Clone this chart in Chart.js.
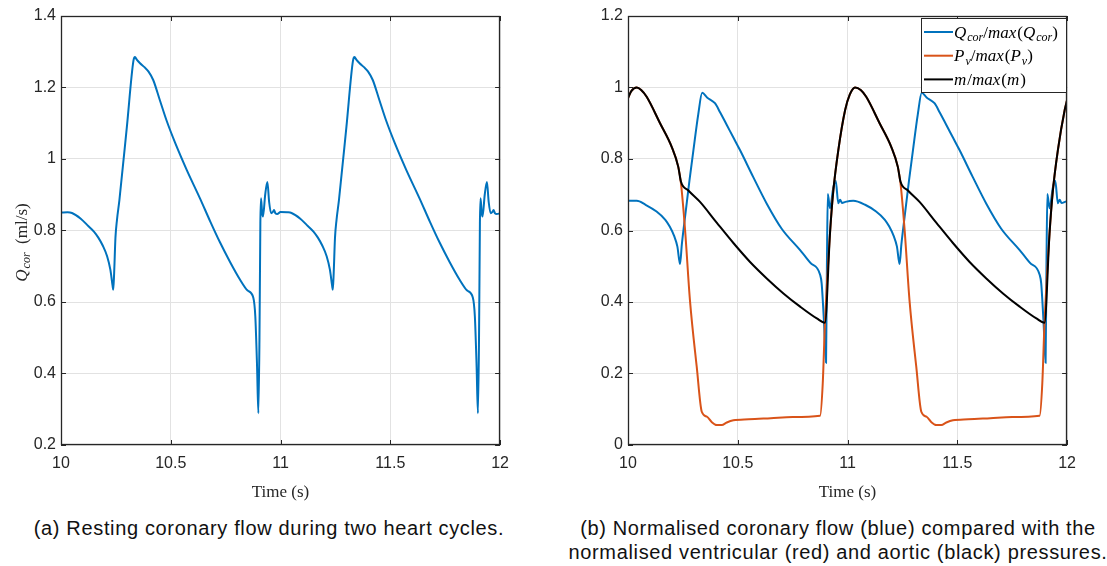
<!DOCTYPE html>
<html>
<head>
<meta charset="utf-8">
<script src="https://cdn.jsdelivr.net/npm/chart.js@4.4.1/dist/chart.umd.min.js"></script>
<style>
body { margin: 0; background: #fff; width: 1107px; height: 566px; position: relative; overflow: hidden; }
.box { position: absolute; top: 0; width: 518px; height: 510px; }
.cap { position: absolute; font-family: "Liberation Sans", sans-serif; font-size: 20px; letter-spacing: 0.65px; text-align: center; color: #111; line-height: 24px; white-space: nowrap; }
</style>
</head>
<body>
<div class="box" style="left:0"><canvas id="chartA"></canvas></div>
<div class="box" style="left:567px"><canvas id="chartB"></canvas></div>
<div class="cap" style="left:0;width:538px;top:516px">(a) Resting coronary flow during two heart cycles.</div>
<div class="cap" style="left:568px;width:540px;top:516px">(b) Normalised coronary flow (blue) compared with the<br>normalised ventricular (red) and aortic (black) pressures.</div>
<script>
// tick labels
const xTicks = [10, 10.5, 11, 11.5, 12];
const yTicksA = [0.2, 0.4, 0.6, 0.8, 1, 1.2, 1.4];
const yTicksB = [0, 0.2, 0.4, 0.6, 0.8, 1, 1.2];

// (a) resting coronary flow, ml/s
const qTime = [10.00, 10.03, 10.05, 10.09, 10.12, 10.15, 10.17, 10.19, 10.21, 10.225, 10.235, 10.238, 10.242, 10.248, 10.255, 10.266,
  10.30, 10.33, 10.337, 10.345, 10.36, 10.38, 10.398, 10.42, 10.45, 10.48, 10.52, 10.573, 10.633, 10.68, 10.724, 10.77, 10.815,
  10.85, 10.876, 10.885, 10.893, 10.899, 10.904, 10.908, 10.911, 10.916, 10.92, 10.93, 10.94, 10.948, 10.957, 10.965, 10.97,
  10.977, 10.985, 11.00,
  11.03, 11.05, 11.09, 11.12, 11.15, 11.17, 11.19, 11.21, 11.225, 11.235, 11.238, 11.242, 11.248, 11.255, 11.266,
  11.30, 11.33, 11.337, 11.345, 11.36, 11.38, 11.398, 11.42, 11.45, 11.48, 11.52, 11.573, 11.633, 11.68, 11.724, 11.77, 11.815,
  11.85, 11.876, 11.885, 11.893, 11.899, 11.904, 11.908, 11.911, 11.916, 11.92, 11.93, 11.94, 11.948, 11.957, 11.965, 11.97,
  11.977, 11.985, 12.00];
const qFlow = [0.850, 0.851, 0.849, 0.833, 0.815, 0.797, 0.780, 0.758, 0.728, 0.690, 0.645, 0.634, 0.680, 0.780, 0.830, 0.885,
  1.090, 1.275, 1.285, 1.278, 1.268, 1.257, 1.245, 1.221, 1.165, 1.109, 1.045, 0.969, 0.890, 0.825, 0.767, 0.712, 0.663,
  0.632, 0.612, 0.560, 0.420, 0.289, 0.500, 0.820, 0.890, 0.850, 0.839, 0.900, 0.936, 0.880, 0.848, 0.852, 0.857,
  0.848, 0.846, 0.852,
  0.851, 0.849, 0.833, 0.815, 0.797, 0.780, 0.758, 0.728, 0.690, 0.645, 0.634, 0.680, 0.780, 0.830, 0.885,
  1.090, 1.275, 1.285, 1.278, 1.268, 1.257, 1.245, 1.221, 1.165, 1.109, 1.045, 0.969, 0.890, 0.825, 0.767, 0.712, 0.663,
  0.632, 0.612, 0.560, 0.420, 0.289, 0.500, 0.820, 0.890, 0.850, 0.839, 0.900, 0.936, 0.880, 0.848, 0.852, 0.857,
  0.848, 0.846, 0.848];

// (b) normalised coronary flow
const qnTime = [10.00, 10.04, 10.08, 10.13, 10.17, 10.19, 10.21, 10.225, 10.237, 10.245, 10.26, 10.28, 10.298, 10.32, 10.338,
  10.36, 10.396, 10.42, 10.45, 10.48, 10.51, 10.57, 10.632, 10.70, 10.784, 10.83, 10.875, 10.882, 10.893, 10.902, 10.906,
  10.91, 10.92, 10.935, 10.946, 10.958, 10.966, 10.975, 10.99, 11.026,
  11.08, 11.13, 11.17, 11.19, 11.21, 11.225, 11.237, 11.245, 11.26, 11.28, 11.298, 11.32, 11.338,
  11.36, 11.396, 11.42, 11.45, 11.48, 11.51, 11.57, 11.632, 11.70, 11.784, 11.83, 11.875, 11.882, 11.893, 11.902, 11.906,
  11.91, 11.92, 11.935, 11.946, 11.958, 11.966, 11.975, 11.99, 12.00];
const qnVal = [0.683, 0.683, 0.672, 0.653, 0.630, 0.611, 0.585, 0.555, 0.506, 0.560, 0.639, 0.740, 0.825, 0.925, 0.985,
  0.972, 0.956, 0.930, 0.895, 0.860, 0.825, 0.750, 0.675, 0.605, 0.545, 0.510, 0.476, 0.452, 0.340, 0.230, 0.500,
  0.702, 0.662, 0.720, 0.739, 0.676, 0.686, 0.677, 0.680, 0.683,
  0.672, 0.653, 0.630, 0.611, 0.585, 0.555, 0.506, 0.560, 0.639, 0.740, 0.825, 0.925, 0.985,
  0.972, 0.956, 0.930, 0.895, 0.860, 0.825, 0.750, 0.675, 0.605, 0.545, 0.510, 0.476, 0.452, 0.340, 0.230, 0.500,
  0.702, 0.662, 0.720, 0.739, 0.676, 0.686, 0.677, 0.680, 0.682];

// (b) normalised ventricular pressure
const pvTime = [10.00, 10.015, 10.04, 10.06, 10.085, 10.146, 10.199, 10.229, 10.241, 10.26, 10.282, 10.313, 10.336, 10.36, 10.38,
  10.404, 10.427, 10.45, 10.48, 10.55, 10.65, 10.75, 10.875, 10.887, 10.897, 10.92, 10.935, 10.958, 10.989, 11.01, 11.034,
  11.06, 11.085, 11.146, 11.199, 11.229, 11.241, 11.26, 11.282, 11.313, 11.336, 11.36, 11.38,
  11.404, 11.427, 11.45, 11.48, 11.55, 11.65, 11.75, 11.875, 11.887, 11.897, 11.92, 11.935, 11.958, 11.989, 12.00];
const pvVal = [0.970, 0.990, 1.000, 0.993, 0.974, 0.900, 0.834, 0.778, 0.733, 0.601, 0.406, 0.219, 0.093, 0.079, 0.065,
  0.056, 0.056, 0.063, 0.069, 0.072, 0.075, 0.078, 0.082, 0.172, 0.340, 0.592, 0.710, 0.825, 0.937, 0.980, 1.000,
  0.993, 0.974, 0.900, 0.834, 0.778, 0.733, 0.601, 0.406, 0.219, 0.093, 0.079, 0.065,
  0.056, 0.056, 0.063, 0.069, 0.072, 0.075, 0.078, 0.082, 0.172, 0.340, 0.592, 0.710, 0.825, 0.937, 0.965];

// (b) normalised aortic pressure
const mTime = [10.00, 10.015, 10.04, 10.06, 10.085, 10.146, 10.199, 10.229, 10.241, 10.275, 10.328, 10.404, 10.48, 10.556,
  10.632, 10.708, 10.784, 10.86, 10.897, 10.92, 10.935, 10.958, 10.989, 11.01, 11.034,
  11.06, 11.085, 11.146, 11.199, 11.229, 11.241, 11.275, 11.328, 11.404, 11.48, 11.556,
  11.632, 11.708, 11.784, 11.86, 11.897, 11.92, 11.935, 11.958, 11.989, 12.00];
const mVal = [0.970, 0.990, 1.000, 0.993, 0.974, 0.900, 0.834, 0.778, 0.737, 0.712, 0.680, 0.622, 0.565, 0.512,
  0.466, 0.424, 0.387, 0.354, 0.342, 0.592, 0.710, 0.825, 0.937, 0.980, 1.000,
  0.993, 0.974, 0.900, 0.834, 0.778, 0.737, 0.712, 0.680, 0.622, 0.565, 0.512,
  0.466, 0.424, 0.387, 0.354, 0.342, 0.592, 0.710, 0.825, 0.937, 0.965];

// rich text pieces: i = italic, r = roman, s = italic subscript
const yTitleA = [['Q', 'i'], ['cor', 's'], ['  (ml/s)', 'r']];
const legendLabels = [
  [['Q', 'i'], ['cor', 's'], ['/', 'r'], ['max', 'i'], ['(', 'r'], ['Q', 'i'], ['cor', 's'], [')', 'r']],
  [['P', 'i'], ['v', 's'], ['/', 'r'], ['max', 'i'], ['(', 'r'], ['P', 'i'], ['v', 's'], [')', 'r']],
  [['m', 'i'], ['/', 'r'], ['max', 'i'], ['(', 'r'], ['m', 'i'], [')', 'r']]
];

const BLUE = '#0072BD', RED = '#D95319', BLACK = '#000000';
const SERIF = '"Liberation Serif", "DejaVu Serif", serif';

function pts(t, v) {
  return t.map((x, i) => ({x: x, y: v[i]}));
}

function richFont(kind, size) {
  if (kind === 'r') return `${size}px ${SERIF}`;
  if (kind === 's') return `italic ${Math.round(size * 0.72)}px ${SERIF}`;
  return `italic ${size}px ${SERIF}`;
}

function richWidth(ctx, parts, size) {
  let w = 0;
  parts.forEach(([txt, kind]) => { ctx.font = richFont(kind, size); w += ctx.measureText(txt).width + (kind === 'i' ? 1 : 0); });
  return w;
}

/** Draws text with subscripts, x is the left end, y the middle. */
function drawRich(ctx, x, y, parts, size) {
  const base = y + size * 0.33;
  ctx.textBaseline = 'alphabetic';
  ctx.textAlign = 'left';
  parts.forEach(([txt, kind]) => {
    ctx.font = richFont(kind, size);
    ctx.fillText(txt, x, kind === 's' ? base + size * 0.22 : base);
    x += ctx.measureText(txt).width + (kind === 'i' ? 1 : 0);
  });
}

/** Black box round the plot with MATLAB style inward ticks. */
const axesBox = {
  id: 'axesBox',
  afterDatasetsDraw(chart) {
    const {ctx, chartArea: a, scales: {x, y}} = chart;
    ctx.save();
    ctx.strokeStyle = '#262626';
    ctx.lineWidth = 1;
    ctx.beginPath();
    x.ticks.forEach(t => {
      const px = Math.round(x.getPixelForValue(t.value)) + 0.5;
      ctx.moveTo(px, a.bottom); ctx.lineTo(px, a.bottom - 5);
      ctx.moveTo(px, a.top); ctx.lineTo(px, a.top + 5);
    });
    y.ticks.forEach(t => {
      const py = Math.round(y.getPixelForValue(t.value)) + 0.5;
      ctx.moveTo(a.left, py); ctx.lineTo(a.left + 5, py);
      ctx.moveTo(a.right, py); ctx.lineTo(a.right - 5, py);
    });
    ctx.stroke();
    ctx.lineWidth = 1.3;
    ctx.strokeRect(Math.round(a.left) + 0.5, Math.round(a.top) + 0.5, Math.round(a.width) - 1, Math.round(a.height) - 1);
    ctx.restore();
  }
};

const yTitle = {
  id: 'yTitle',
  afterDraw(chart) {
    const {ctx, chartArea: a} = chart;
    const size = 17;
    ctx.save();
    ctx.fillStyle = '#262626';
    const w = richWidth(ctx, yTitleA, size);
    ctx.translate(21, (a.top + a.bottom) / 2 + 12);
    ctx.rotate(-Math.PI / 2);
    drawRich(ctx, -w / 2, 0, yTitleA, size);
    ctx.restore();
  }
};

const legendBox = {
  id: 'legendBox',
  afterDraw(chart) {
    const {ctx, chartArea: a} = chart;
    const w = 145, h = 74;
    const x0 = Math.round(a.right) - w - 1, y0 = Math.round(a.top) + 2;
    const colors = [BLUE, RED, BLACK];
    ctx.save();
    ctx.fillStyle = '#fff';
    ctx.fillRect(x0, y0, w, h);
    ctx.strokeStyle = '#262626';
    ctx.lineWidth = 1;
    ctx.strokeRect(x0 + 0.5, y0 + 0.5, w, h);
    legendLabels.forEach((parts, i) => {
      const ly = y0 + 14 + i * 23.7;
      ctx.strokeStyle = colors[i];
      ctx.lineWidth = 2;
      ctx.beginPath();
      ctx.moveTo(x0 + 3, ly);
      ctx.lineTo(x0 + 32, ly);
      ctx.stroke();
      ctx.fillStyle = '#000';
      drawRich(ctx, x0 + 33, ly, parts, 17);
    });
    ctx.restore();
  }
};

function makeChart(id, datasets, yTicks, yMin, yMax, plugins) {
  const tickFont = {family: '"Liberation Sans", sans-serif', size: 16};
  const grid = {color: '#e2e2e2', drawTicks: false};
  return new Chart(document.getElementById(id), {
    type: 'line',
    data: {datasets: datasets},
    options: {
      responsive: true,
      maintainAspectRatio: false,
      devicePixelRatio: 1,
      animation: false,
      layout: {padding: {top: 16, right: 0, left: 0, bottom: 0}},
      elements: {point: {radius: 0}, line: {borderWidth: 2, cubicInterpolationMode: 'monotone'}},
      plugins: {legend: {display: false}, tooltip: {enabled: false}},
      scales: {
        x: {
          type: 'linear', min: 10, max: 12,
          afterBuildTicks: s => { s.ticks = xTicks.map(v => ({value: v})); },
          afterFit: s => { s.height = 65; },
          grid: grid,
          border: {display: false},
          ticks: {padding: 9, color: '#262626', font: tickFont, maxRotation: 0, autoSkip: false, callback: v => String(v)},
          title: {display: true, text: 'Time (s)', color: '#262626', font: {family: SERIF, size: 17}, padding: {top: 0, bottom: 7}}
        },
        y: {
          min: yMin, max: yMax,
          afterBuildTicks: s => { s.ticks = yTicks.map(v => ({value: v})); },
          afterFit: s => { s.width = 61; },
          grid: grid,
          border: {display: false},
          ticks: {padding: 5, color: '#262626', font: tickFont, callback: v => String(v)}
        }
      }
    },
    plugins: plugins
  });
}

makeChart('chartA', [
  {data: pts(qTime, qFlow), borderColor: BLUE}
], yTicksA, 0.2, 1.4, [axesBox, yTitle]);

makeChart('chartB', [
  {data: pts(qnTime, qnVal), borderColor: BLUE, order: 3},
  {data: pts(pvTime, pvVal), borderColor: RED, order: 2},
  {data: pts(mTime, mVal), borderColor: BLACK, order: 1}
], yTicksB, 0, 1.2, [axesBox, legendBox]);
</script>
</body>
</html>
